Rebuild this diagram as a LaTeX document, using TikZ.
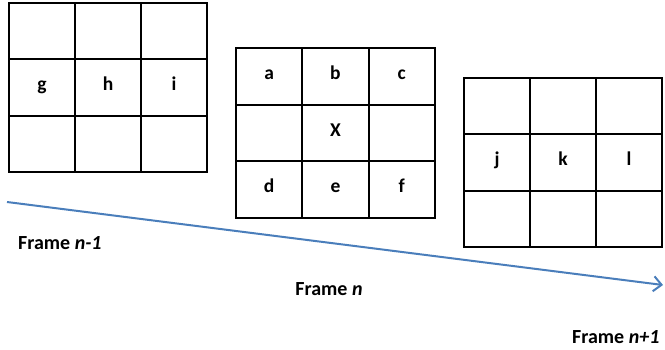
\documentclass[tikz,border=0pt]{standalone}
\usepackage{fontspec}
\setmainfont{Carlito}
\usetikzlibrary{arrows.meta}
\definecolor{arrowblue}{HTML}{4A7EBB}
\tikzset{
  cell/.style={draw=black, line width=2pt, minimum width=66pt, minimum height=56.4pt,
    inner sep=0pt, outer sep=0pt, anchor=north west, text height=10pt, text depth=4pt,
    font=\fontsize{19.5}{23}\selectfont\bfseries},
  framelabel/.style={inner sep=0pt, font=\fontsize{20}{24}\selectfont\bfseries},
  timearrow/.style={draw=arrowblue, line width=2pt, -{Straight Barb[length=8pt,width=15pt]}}
}
\begin{document}
\begin{tikzpicture}[x=1pt,y=-1pt]
\useasboundingbox (0,0) rectangle (665,349);
% Frame n-1
\foreach \lab [count=\i from 0] in {{},{},{},g,h,i,{},{},{}} {
  \pgfmathtruncatemacro{\r}{int(\i/3)}
  \pgfmathtruncatemacro{\c}{mod(\i,3)}
  \node[cell] (A-\r-\c) at (9+66*\c, 3+56.4*\r) {\lab};
}
% Frame n
\foreach \lab [count=\i from 0] in {a,b,c,{},X,{},d,e,f} {
  \pgfmathtruncatemacro{\r}{int(\i/3)}
  \pgfmathtruncatemacro{\c}{mod(\i,3)}
  \node[cell, minimum width=66.3pt, minimum height=56.7pt] (B-\r-\c) at (236+66.3*\c, 48+56.7*\r) {\lab};
}
% Frame n+1
\foreach \lab [count=\i from 0] in {{},{},{},j,k,l,{},{},{}} {
  \pgfmathtruncatemacro{\r}{int(\i/3)}
  \pgfmathtruncatemacro{\c}{mod(\i,3)}
  \node[cell, minimum height=56.3pt] (C-\r-\c) at (464+66*\c, 78+56.3*\r) {\lab};
}
% time arrow
\coordinate (tstart) at (7,202);
\coordinate (tend) at (663,285);
\draw[timearrow] (tstart) -- (tend);
% labels
\node[framelabel, anchor=west] (L1) at (18,243) {Frame \textit{n-1}};
\node[framelabel] (L2) at (329,289) {Frame \textit{n}};
\node[framelabel, anchor=west] (L3) at (572,337) {Frame \textit{n+1}};
\end{tikzpicture}
\end{document}
